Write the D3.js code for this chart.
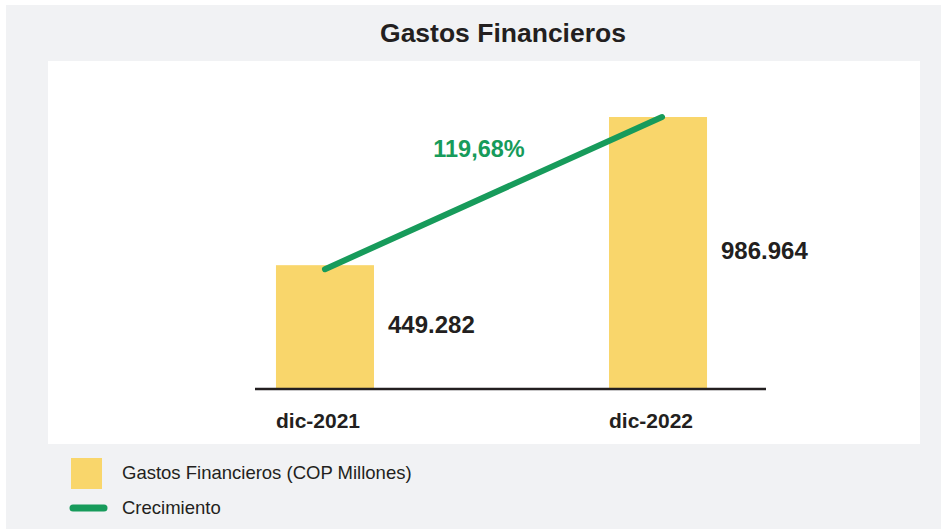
<!DOCTYPE html>
<html>
<head>
<meta charset="utf-8">
<script src="https://cdn.jsdelivr.net/npm/d3@7"></script>
<style>
  body { margin: 0; background: #ffffff; }
  text { font-family: "Liberation Sans", Arial, sans-serif; }
</style>
</head>
<body>
<div class="chartHolder"></div>
<script>
var categories = ["dic-2021", "dic-2022"];
var gastos = [449282, 986964];
var valueLabels = ["449.282", "986.964"];
var growthLabel = "119,68%";
var legendLabels = ["Gastos Financieros (COP Millones)", "Crecimiento"];

var width = 941;
var height = 530;

var svg = d3
  .select(".chartHolder")
  .append("svg")
  .attr("width", width)
  .attr("height", height);

// outer grey panel and white plot area
svg.append("rect").attr("x", 6).attr("y", 5).attr("width", 935).attr("height", 524).style("fill", "#f1f2f4");
svg.append("rect").attr("x", 48).attr("y", 61).attr("width", 872).attr("height", 383).style("fill", "#ffffff");

svg.append("text")
  .attr("x", 503)
  .attr("y", 42)
  .attr("text-anchor", "middle")
  .style("font-size", "26.5px")
  .style("font-weight", "bold")
  .style("fill", "#231f20")
  .text("Gastos Financieros");

var xScale = d3.scaleBand().domain(categories).range([242, 741]).paddingInner(0.7057).paddingOuter(0.102);
var yScale = d3.scaleLinear().domain([0, d3.max(gastos)]).range([389, 117]);

// bars
svg.selectAll(".bar")
  .data(gastos)
  .enter()
  .append("rect")
  .attr("class", "bar")
  .attr("x", (d, i) => xScale(categories[i]))
  .attr("y", (d) => yScale(d))
  .attr("width", xScale.bandwidth())
  .attr("height", (d) => yScale(0) - yScale(d))
  .style("fill", "#f9d66b");

// baseline axis
var xAxis = d3.axisBottom(xScale).tickSize(0).tickPadding(0).tickFormat("");
var axisG = svg.append("g").attr("transform", "translate(0," + yScale(0) + ")").call(xAxis);
axisG.select(".domain").attr("d", "M255,0H766").style("stroke", "#231f20").style("stroke-width", 2.5);

// category labels
svg.selectAll(".cat")
  .data(categories)
  .enter()
  .append("text")
  .attr("x", (d) => xScale(d))
  .attr("y", 428)
  .style("font-size", "21px")
  .style("font-weight", "bold")
  .style("fill", "#231f20")
  .text((d) => d);

// value labels
svg.selectAll(".val")
  .data(gastos)
  .enter()
  .append("text")
  .attr("x", (d, i) => xScale(categories[i]) + xScale.bandwidth() + 14)
  .attr("y", (d) => (yScale(0) + yScale(d)) / 2 + 6)
  .style("font-size", "24px")
  .style("font-weight", "bold")
  .style("fill", "#231f20")
  .text((d, i) => valueLabels[i]);

// growth line
var line = d3.line()
  .x((d, i) => xScale(categories[i]) + xScale.bandwidth() / 2 + i * 4)
  .y((d, i) => yScale(d) + (i === 0 ? 4 : 0));

svg.append("path")
  .datum(gastos)
  .attr("d", line)
  .style("fill", "none")
  .style("stroke", "#179b5b")
  .style("stroke-width", 6)
  .style("stroke-linecap", "round");

svg.append("text")
  .attr("x", 479)
  .attr("y", 157)
  .attr("text-anchor", "middle")
  .style("font-size", "23.5px")
  .style("font-weight", "bold")
  .style("fill", "#179b5b")
  .text(growthLabel);

// legend
svg.append("rect").attr("x", 71).attr("y", 458).attr("width", 31).attr("height", 31).style("fill", "#f9d66b");
svg.append("line").attr("x1", 73).attr("x2", 104).attr("y1", 508).attr("y2", 508)
  .style("stroke", "#179b5b").style("stroke-width", 7).style("stroke-linecap", "round");

svg.selectAll(".leg")
  .data(legendLabels)
  .enter()
  .append("text")
  .attr("x", 122)
  .attr("y", (d, i) => 479 + i * 35)
  .style("font-size", "18.5px")
  .style("fill", "#231f20")
  .text((d) => d);
</script>
</body>
</html>
